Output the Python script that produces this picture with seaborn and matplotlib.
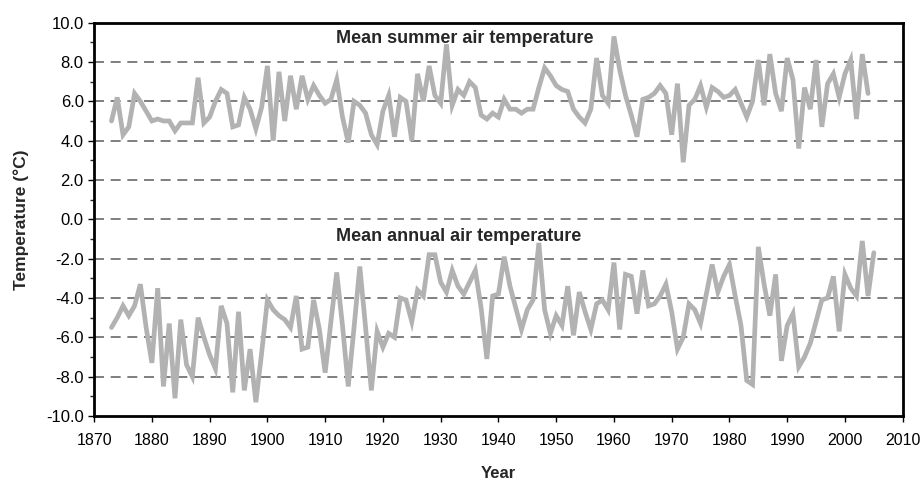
import numpy as np
import matplotlib
matplotlib.use("Agg")
import matplotlib.pyplot as plt
from matplotlib.ticker import MultipleLocator, FormatStrFormatter
import seaborn as sns

# Mean summer air temperature, 1873-2004
summer_years = list(range(1873, 2005))
summer_temp = [
    5.0, 6.2, 4.3, 4.7, 6.4, 6.0, 5.5,                      # 1873-1879
    5.0, 5.1, 5.0, 5.0, 4.5, 4.9, 4.9, 4.9, 7.2, 4.9,       # 1880s
    5.2, 6.0, 6.6, 6.4, 4.7, 4.8, 6.2, 5.6, 4.6, 5.7,       # 1890s
    7.8, 4.0, 7.5, 5.0, 7.3, 5.6, 7.3, 6.1, 6.8, 6.3,       # 1900s
    5.9, 6.1, 7.1, 5.2, 3.9, 6.0, 5.8, 5.4, 4.3, 3.8,       # 1910s
    5.5, 6.3, 4.2, 6.2, 6.0, 4.0, 7.4, 6.0, 7.8, 6.3,       # 1920s
    5.9, 8.9, 5.8, 6.6, 6.3, 7.0, 6.7, 5.3, 5.1, 5.4,       # 1930s
    5.2, 6.1, 5.6, 5.6, 5.4, 5.6, 5.6, 6.7, 7.7, 7.3,       # 1940s
    6.8, 6.6, 6.5, 5.6, 5.2, 4.9, 5.6, 8.2, 6.3, 5.9,       # 1950s
    9.3, 7.6, 6.3, 5.3, 4.2, 6.1, 6.2, 6.4, 6.8, 6.4,       # 1960s
    4.3, 6.9, 2.9, 5.8, 6.1, 6.8, 5.7, 6.7, 6.5, 6.2,       # 1970s
    6.3, 6.6, 5.9, 5.2, 6.0, 8.1, 5.8, 8.4, 6.4, 5.5,       # 1980s
    8.2, 7.1, 3.6, 6.7, 5.6, 8.1, 4.7, 6.9, 7.4, 6.2,       # 1990s
    7.4, 8.1, 5.1, 8.4, 6.4,                                # 2000-2004
]

# Mean annual air temperature, 1873-2005
annual_years = list(range(1873, 2006))
annual_temp = [
    -5.5, -5.0, -4.4, -4.9, -4.4, -3.3, -5.5,               # 1873-1879
    -7.3, -3.5, -8.5, -5.3, -9.1, -5.1, -7.4, -8.0, -5.0, -6.0,  # 1880s
    -6.9, -7.6, -4.4, -5.3, -8.8, -4.7, -8.7, -6.6, -9.3, -6.8,  # 1890s
    -4.1, -4.6, -4.9, -5.1, -5.5, -3.9, -6.6, -6.5, -4.1, -5.6,  # 1900s
    -7.8, -5.2, -2.7, -5.4, -8.5, -5.5, -2.4, -5.5, -8.7, -5.7,  # 1910s
    -6.5, -5.8, -6.0, -4.0, -4.1, -5.2, -3.6, -3.9, -1.8, -1.8,  # 1920s
    -3.2, -3.7, -2.6, -3.4, -3.8, -3.2, -2.6, -4.5, -7.1, -3.9,  # 1930s
    -3.8, -1.9, -3.4, -4.5, -5.6, -4.6, -4.1, -1.2, -4.6, -5.8,  # 1940s
    -4.9, -5.4, -3.4, -5.9, -3.7, -4.7, -5.6, -4.3, -4.1, -4.6,  # 1950s
    -2.2, -5.6, -2.8, -2.9, -4.8, -2.6, -4.4, -4.3, -3.9, -3.3,  # 1960s
    -4.7, -6.6, -6.0, -4.3, -4.6, -5.3, -3.8, -2.3, -3.7, -2.9,  # 1970s
    -2.3, -3.9, -5.4, -8.2, -8.4, -1.4, -3.3, -4.9, -2.8, -7.2,  # 1980s
    -5.4, -4.8, -7.5, -7.0, -6.3, -5.2, -4.1, -4.0, -2.9, -5.7,  # 1990s
    -2.8, -3.5, -3.9, -1.1, -3.9, -1.7,                          # 2000-2005
]

sns.set_style("white")
plt.rcParams['font.family'] = ['Liberation Sans', 'DejaVu Sans']
plt.rcParams['axes.unicode_minus'] = False

fig = plt.figure(figsize=(9.23, 4.82), dpi=100)
ax = fig.add_axes([0.102, 0.137, 0.876, 0.816])

line_color = "#b2b2b2"
sns.lineplot(x=summer_years, y=summer_temp, ax=ax, color=line_color,
             linewidth=3.4, solid_joinstyle="miter", zorder=3)
sns.lineplot(x=annual_years, y=annual_temp, ax=ax, color=line_color,
             linewidth=3.4, solid_joinstyle="miter", zorder=3)

# dashed horizontal gridlines
for yv in np.arange(-8, 9, 2):
    ax.axhline(yv, color="#6a6a6a", linewidth=1.2, linestyle=(0, (6, 4)), zorder=1)

ax.set_xlim(1870, 2010)
ax.set_ylim(-10, 10)
ax.xaxis.set_major_locator(MultipleLocator(10))
ax.yaxis.set_major_locator(MultipleLocator(2))
ax.yaxis.set_minor_locator(MultipleLocator(1))
ax.yaxis.set_major_formatter(FormatStrFormatter("%.1f"))

ax.tick_params(axis="both", which="major", direction="out", length=4, width=1,
               colors="black", bottom=True, left=True)
ax.tick_params(axis="y", which="major", labelsize=12)
ax.tick_params(axis="x", which="major", labelsize=11.5, pad=8)
ax.tick_params(axis="y", which="minor", direction="out", length=3, width=1, left=True)

for side in ["top", "bottom", "left", "right"]:
    ax.spines[side].set_visible(True)
    ax.spines[side].set_color("black")
    ax.spines[side].set_linewidth(2.0)

ax.text(1911.9, 9.2, "Mean summer air temperature", fontsize=13,
        fontweight="bold", va="center", ha="left", zorder=4)
ax.text(1911.9, -0.86, "Mean annual air temperature", fontsize=13,
        fontweight="bold", va="center", ha="left", zorder=4)

ax.set_xlabel("Year", fontsize=12, fontweight="bold", labelpad=13)
ax.set_ylabel("Temperature (°C)", fontsize=12.5, fontweight="bold", labelpad=12)

fig.savefig("out.png", dpi=100)
